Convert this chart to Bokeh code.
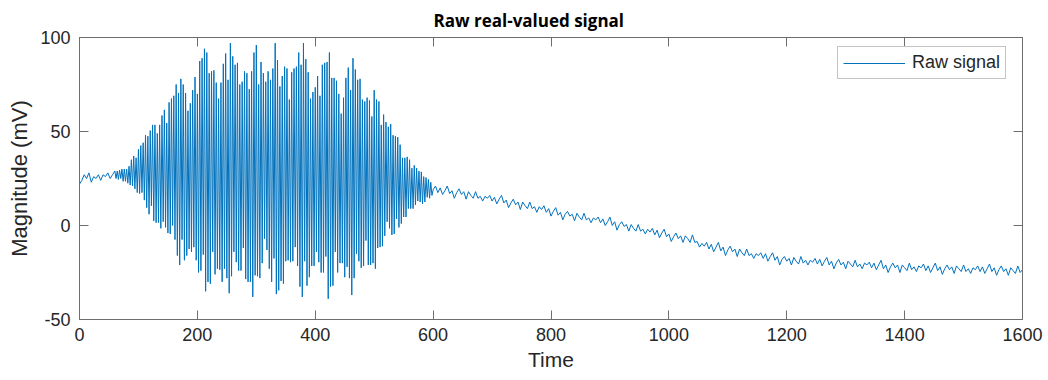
from bokeh.plotting import figure
from bokeh.models import LinearAxis, FixedTicker, Range1d, CustomJSTickFormatter
from bokeh.embed import file_html
from bokeh.resources import INLINE

# ---- data ----
time_early = list(range(0, 57, 4))
vals_early = [22, 24, 27, 25, 28, 23, 26, 25, 27, 24, 27, 26, 28, 25, 27]

time_burst = list(range(60, 599, 2))
vals_burst = [
    29, 25, 29, 24.5, 29.5, 25, 30, 23.5, 30, 23.5,
    30, 22.5, 31.5, 21.5, 35, 21, 37, 19.5, 36, 17.5,
    40.5, 17, 42.5, 17.5, 44, 13.5, 48, 9.5, 47.5, 6,
    50.5, 10.5, 53.5, 2.5, 53.5, 1.5, 49, 1.5, 53.5, -1.5,
    58.5, 2, 61.5, -1, 54.5, -4, 65.5, -4.5, 67.5, 0,
    69, -7.5, 75, -16, 70.5, -21, 78, -7.5, 75, -18.5,
    70.5, -16, 61, -12.5, 65, -14, 72, -11.5, 79, -18.5,
    70, -25, 87.5, -24, 89, -15.5, 94, -35, 92, -30,
    81, -31, 82, -14, 82.5, -26, 76, -23, 67.5, -23.5,
    76, -30, 86, -23, 91.5, -28, 77.5, -36, 97, -27,
    90, -14, 85.5, -19.5, 86.5, -24, 75, -24, 76.5, -12,
    82, -28.5, 81, -30, 72.5, -30, 82, -38, 92, -26.5,
    96, -27, 75, -28, 87, -20, 81, -7, 76.5, -13,
    82, -23, 77.5, -30, 83.5, -17.5, 97, -36.5, 88, -34.5,
    74, -29.5, 79.5, -31, 84.5, -19, 83.5, -18.5, 67, -19.5,
    81.5, -19, 83.5, -11.5, 84.5, -21.5, 92, -32.5, 85.5, -38,
    97, -19, 88.5, -32, 81.5, -27.5, 67.5, -21.5, 71, -21.5,
    73.5, -14, 79.5, -19.5, 69, -25, 85.5, -25, 86.5, -16.5,
    87, -39, 92, -32.5, 78.5, -32, 78.5, -14, 77, -25,
    70, -20, 59.5, -20, 68, -27.5, 78.5, -22, 84, -28,
    72, -37, 89, -28, 83, -15, 77.5, -19, 78, -22.5,
    67, -21.5, 66, -8, 68, -21, 66.5, -21, 58, -20,
    72, -23, 67, -12, 66, -11.5, 53.5, -11, 59, -5.5,
    55, 2, 52.5, -1.5, 54, -5, 48, -4.5, 47.5, 3.5,
    47, -1, 43, 1, 36, 4.5, 36, 4.5, 36.5, 9,
    35, 9, 30.5, 9, 32, 11, 30.5, 13, 29, 12.5,
    28.5, 11.5, 26, 12.5, 25.5, 15, 24.5, 14.5, 23, 16,
]

time_late = list(range(600, 1601, 4))
vals_late = [
    19, 21, 17.5, 20, 16.5, 18.5, 21, 17, 18.5, 14.5,
    17.5, 19.5, 16.5, 18, 14, 18, 16, 14.5, 18, 14.5,
    15.5, 13, 15.5, 14.5, 16, 13, 15, 11.5, 14, 16,
    12, 13.5, 9.5, 12, 14, 11, 12.5, 8.5, 12.5, 10.5,
    9, 12.5, 9, 10, 7, 10, 8.5, 10.5, 7, 9,
    5, 7.5, 9.5, 5.5, 7, 3, 6, 7.5, 5, 6,
    2.5, 6.5, 4.5, 3, 6.5, 3, 4, 1.5, 4, 3,
    4.5, 1.5, 3.5, 0, 2, 4.5, 0, 2, -2.5, 0.5,
    2, -0.5, 0.5, -3, 0.5, -1.5, -3, 0.5, -3, -2,
    -4.5, -2, -3.5, -1.5, -5, -2.5, -6.5, -4, -2, -6,
    -4.5, -8.5, -6, -4, -7, -5.5, -9, -5.5, -7, -9,
    -5, -9, -8.5, -11.5, -9.5, -11, -9, -12.5, -10, -14,
    -11.5, -9, -13.5, -11.5, -16, -13, -11, -14, -12.5, -16.5,
    -12.5, -14.5, -16, -12.5, -16, -15, -17.5, -15, -16, -14.5,
    -17.5, -15, -19, -16.5, -14.5, -18.5, -16.5, -21, -18, -16.5,
    -19, -17.5, -21, -17, -19, -20.5, -16.5, -20, -18.5, -21,
    -18.5, -19.5, -17.5, -20.5, -18, -21.5, -19, -17, -21, -19,
    -23, -20, -18, -21, -19.5, -23, -19, -20.5, -22, -18.5,
    -22, -20.5, -23, -20, -21, -19.5, -22.5, -20, -23.5, -21,
    -18.5, -23, -21, -25, -22, -20, -22.5, -21, -25, -21,
    -22.5, -24, -20, -23.5, -22, -24.5, -21.5, -22.5, -20.5, -24,
    -21.5, -25, -22.5, -20, -24, -22, -26, -23, -21, -23.5,
    -22, -25.5, -21.5, -23, -24.5, -21, -24.5, -23, -25.5, -22.5,
    -23.5, -21.5, -24.5, -22, -25.5, -23, -20.5, -24.5, -22.5, -26.5,
    -23.5, -21.5, -24.5, -23, -26.5, -22.5, -24, -25.5, -21.5, -25,
    -23.5,
]

x_ticks = [0, 200, 400, 600, 800, 1000, 1200, 1400, 1600]
y_ticks = [-50, 0, 50, 100]

time = time_early + time_burst + time_late
signal = vals_early + vals_burst + vals_late

# ---- styling ----
TXT = "#262626"
AX = "#6e6e6e"
FONT = "Liberation Sans"

p = figure(width=1048, height=380, x_range=Range1d(0, 1600), y_range=Range1d(-50, 100),
           output_backend="svg", toolbar_location=None,
           min_border_left=79, min_border_right=26, min_border_top=37, min_border_bottom=61)
p.background_fill_color = "white"
p.border_fill_color = "white"
p.outline_line_color = AX
p.outline_line_width = 1
p.grid.visible = False

p.title.text = "Raw real-valued signal"
p.title.align = "left"
p.title.offset = 354
p.title.standoff = 12
p.title.text_font = "Open Sans"
p.title.text_font_style = "bold"
p.title.text_font_size = "17px"
p.title.text_color = "black"

plain = CustomJSTickFormatter(code="return tick.toString();")

def style_axis(ax, ticks, labels=True):
    ax.ticker = FixedTicker(ticks=ticks)
    ax.axis_line_color = AX
    ax.major_tick_line_color = AX
    ax.major_tick_in = 9
    ax.major_tick_out = 0
    ax.minor_tick_line_color = None
    if labels:
        ax.formatter = plain
        ax.major_label_text_font = FONT
        ax.major_label_text_font_size = "18px"
        ax.major_label_text_color = TXT
        ax.axis_label_text_font = FONT
        ax.axis_label_text_font_style = "normal"
        ax.axis_label_text_color = TXT
    else:
        ax.major_label_text_font_size = "0px"
        ax.major_label_standoff = 0

style_axis(p.xaxis[0], x_ticks)
style_axis(p.yaxis[0], y_ticks)
p.xaxis.axis_label = "Time"
p.yaxis.axis_label = "Magnitude (mV)"
p.xaxis.axis_label_text_font_size = "21px"
p.yaxis.axis_label_text_font_size = "22px"
p.xaxis.major_label_standoff = 8
p.yaxis.major_label_standoff = 9
p.xaxis.axis_label_standoff = 4
p.yaxis.axis_label_standoff = 5

top_ax = LinearAxis()
style_axis(top_ax, x_ticks, labels=False)
p.add_layout(top_ax, "above")
right_ax = LinearAxis()
style_axis(right_ax, y_ticks, labels=False)
p.add_layout(right_ax, "right")

p.line(time, signal, line_color="#0072BD", line_width=1, legend_label="Raw signal")

lg = p.legend[0]
lg.location = (758, 240)
lg.border_line_color = "#8a8a8a"
lg.border_line_width = 1
lg.background_fill_color = "white"
lg.background_fill_alpha = 1
lg.padding = 5
lg.margin = 0
lg.glyph_width = 62
lg.glyph_height = 20
lg.label_standoff = 7
lg.label_height = 20
lg.label_text_font = FONT
lg.label_text_font_size = "18px"
lg.label_text_color = TXT

open("out.html", "w").write(file_html(p, INLINE))
